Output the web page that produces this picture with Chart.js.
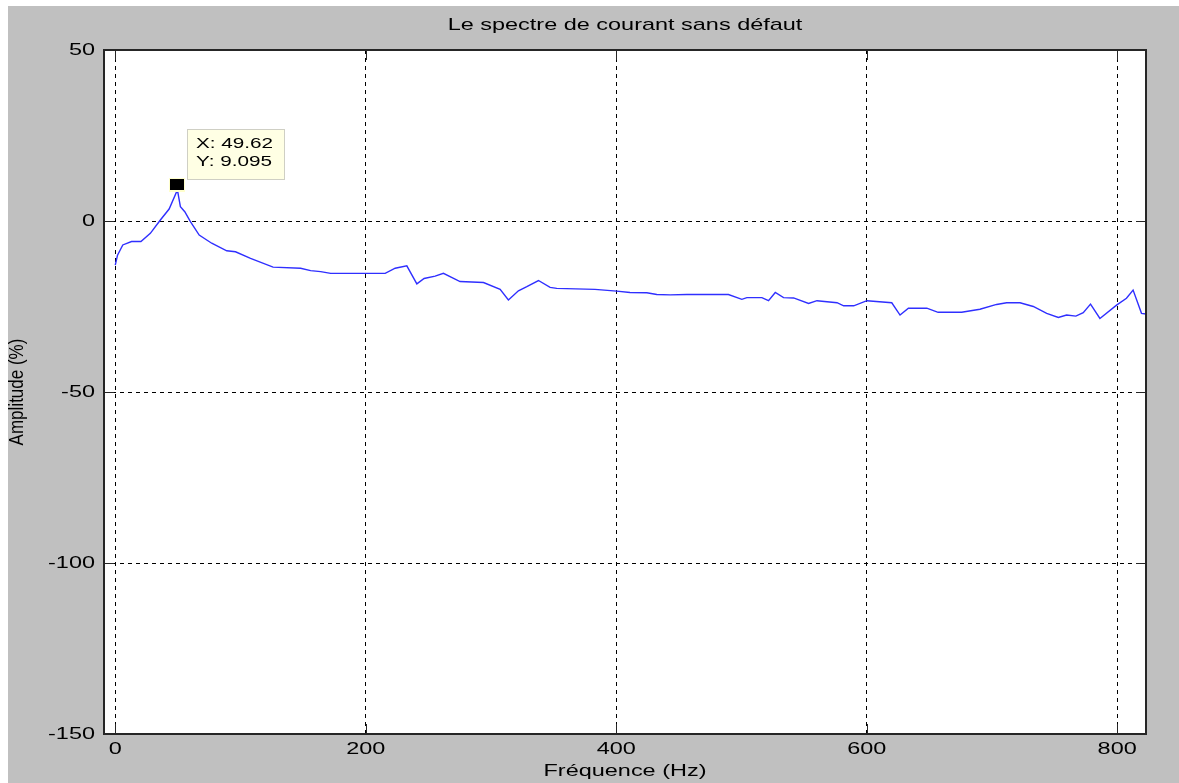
<!DOCTYPE html>
<html>
<head>
<meta charset="utf-8">
<title>Le spectre de courant sans défaut</title>
<script src="https://cdn.jsdelivr.net/npm/chart.js@4.4.1/dist/chart.umd.min.js"></script>
<style>
  html, body { margin: 0; padding: 0; background: #fff; }
  #fig { position: absolute; left: 8px; top: 6px; width: 1171px; height: 777px; background: #c0c0c0; }
  #spectre { display: block; }
</style>
</head>
<body>
<div id="fig"><canvas id="spectre" width="1171" height="777"></canvas></div>
<script>
// spectrum samples (Hz / %)
const freqHz = [
  0, 1.8, 6, 13, 20.5, 28, 36, 43, 49.62, 52, 55.5, 60, 67, 77, 89, 96, 108, 126, 148, 156,
  164, 172, 201, 215.5, 223.5, 232.8, 240.8, 246.6, 255.4, 262, 275.3, 294, 307.3, 313.9, 321.9, 328.6,
  337.9, 347.2, 352.5, 383, 400.4, 411, 424.4, 432.4, 443, 456.4, 489.6, 500.3, 504.3, 516.3,
  521.6, 527, 533.6, 541.6, 553.6, 560.3, 576.3, 581.6, 589.6, 600.2, 620, 626.6, 633.3, 648,
  657, 675.8, 690.4, 703.7, 711.7, 722.4, 733, 743.7, 753, 759.6, 767, 772.9, 778.7, 786.2,
  799.5, 807.4, 812.7, 819.4, 823
];
const ampPct = [
  -12.9, -10, -7, -6, -6, -3.6, 0.3, 3.5, 9.095, 4.2, 2.7, -0.2, -4.1, -6.5, -8.7, -9, -10.9, -13.5, -13.8, -14.5,
  -14.8, -15.3, -15.3, -15.3, -13.8, -13.1, -18.4, -16.8, -16.1, -15.3, -17.7, -18, -20, -23.1, -20.4, -19.2,
  -17.4, -19.4, -19.7, -20, -20.5, -20.9, -21, -21.5, -21.6, -21.5, -21.5, -22.9, -22.4, -22.4,
  -23.3, -20.9, -22.4, -22.5, -24.1, -23.3, -23.9, -24.8, -24.8, -23.3, -23.9, -27.5, -25.5, -25.5,
  -26.7, -26.7, -25.8, -24.4, -23.9, -23.9, -25, -27, -28.2, -27.5, -27.8, -26.8, -24.3, -28.5,
  -24.6, -22.6, -20.2, -27, -27.2
];

const xTicks = [0, 200, 400, 600, 800];
const yTicks = [-150, -100, -50, 0, 50];

const titleText = 'Le spectre de courant sans défaut';
const xLabel = 'Fréquence (Hz)';
const yLabel = 'Amplitude (%)';

// data cursor
const tipX = 49.62;
const tipY = 9.095;

const FONT = "17px 'Liberation Sans', Arial, sans-serif";
const TIP_FONT = "15px 'Liberation Sans', Arial, sans-serif";
const SX = 1.38; // wide glyphs, like the old figure window
const AXIS_COLOR = '#262626';

function wideText(ctx, s, x, y, align, font){
    ctx.save();
    ctx.font = font;
    ctx.textBaseline = 'middle';
    ctx.textAlign = 'left';
    const w = ctx.measureText(s).width * SX;
    const x0 = align === 'center' ? x - w/2 : (align === 'right' ? x - w : x);
    ctx.translate(x0, y);
    ctx.scale(SX, 1);
    ctx.fillStyle = '#000';
    ctx.fillText(s, 0, 0);
    ctx.restore();
}

const matlabAxes = {
    id: 'matlabAxes',
    beforeDraw(chart){
        const {ctx, chartArea: a} = chart;
        ctx.save();
        ctx.fillStyle = '#fff';
        ctx.fillRect(a.left, a.top, a.right - a.left, a.bottom - a.top);
        ctx.restore();
    },
    afterDatasetsDraw(chart){
        const {ctx, chartArea: a, scales: {x, y}} = chart;
        ctx.save();
        // inward tick marks
        ctx.strokeStyle = AXIS_COLOR;
        ctx.lineWidth = 1;
        ctx.beginPath();
        xTicks.forEach(v => {
            const px = Math.round(x.getPixelForValue(v)) + 0.5;
            ctx.moveTo(px, a.bottom); ctx.lineTo(px, a.bottom - 10);
            ctx.moveTo(px, a.top); ctx.lineTo(px, a.top + 10);
        });
        yTicks.forEach(v => {
            const py = Math.round(y.getPixelForValue(v)) + 0.5;
            ctx.moveTo(a.left, py); ctx.lineTo(a.left + 10, py);
            ctx.moveTo(a.right, py); ctx.lineTo(a.right - 10, py);
        });
        ctx.stroke();
        // box
        ctx.lineWidth = 2;
        ctx.strokeRect(a.left, a.top, a.right - a.left, a.bottom - a.top);

        // data cursor marker + label
        const px = x.getPixelForValue(tipX);
        const py = y.getPixelForValue(tipY);
        ctx.fillStyle = '#ffffcc';
        ctx.fillRect(Math.round(px) - 8, Math.round(py) - 12, 16, 14);
        ctx.fillStyle = '#000';
        ctx.fillRect(Math.round(px) - 7, Math.round(py) - 11, 14, 11);

        const bx = Math.round(px) + 10, by = Math.round(py) - 61;
        ctx.fillStyle = '#ffffe4';
        ctx.fillRect(bx, by, 98, 51);
        ctx.strokeStyle = '#cfcfc4';
        ctx.lineWidth = 1;
        ctx.strokeRect(bx + 0.5, by + 0.5, 97, 50);
        ctx.restore();
        wideText(ctx, 'X: ' + tipX, bx + 9, by + 15, 'left', TIP_FONT);
        wideText(ctx, 'Y: ' + tipY, bx + 9, by + 33, 'left', TIP_FONT);
    },
    afterDraw(chart){
        const {ctx, chartArea: a, scales: {x, y}} = chart;
        xTicks.forEach(v => wideText(ctx, String(v), x.getPixelForValue(v), a.bottom + 15, 'center', FONT));
        yTicks.forEach(v => wideText(ctx, String(v), a.left - 9, y.getPixelForValue(v), 'right', FONT));
        const cx = (a.left + a.right) / 2;
        wideText(ctx, titleText, cx, 19, 'center', FONT);
        wideText(ctx, xLabel, cx, 765, 'center', FONT);

        // rotated y label
        ctx.save();
        ctx.translate(10, (a.top + a.bottom) / 2);
        ctx.scale(SX * 0.85, 1);
        ctx.rotate(-Math.PI / 2);
        ctx.font = FONT;
        ctx.textAlign = 'center';
        ctx.textBaseline = 'middle';
        ctx.fillStyle = '#000';
        ctx.fillText(yLabel, 0, 0);
        ctx.restore();
    }
};

const points = freqHz.map((f, i) => ({x: f, y: ampPct[i]}));

new Chart(document.getElementById('spectre'), {
    type: 'line',
    data: {
        datasets: [{
            data: points,
            borderColor: '#2f2fff',
            borderWidth: 1.4,
            pointRadius: 0,
            tension: 0,
            fill: false
        }]
    },
    options: {
        responsive: false,
        animation: false,
        devicePixelRatio: 1,
        layout: { autoPadding: false, padding: { left: 0, top: 44, right: 33, bottom: 0 } },
        plugins: { legend: { display: false }, tooltip: { enabled: false } },
        scales: {
            x: {
                type: 'linear',
                min: -9,
                max: 823,
                afterBuildTicks: s => { s.ticks = xTicks.map(v => ({value: v})); },
                afterFit: s => { s.height = 49; },
                ticks: { display: false },
                grid: { color: '#000', lineWidth: 1, drawTicks: false },
                border: { display: false, dash: [4, 4] }
            },
            y: {
                type: 'linear',
                min: -150,
                max: 50,
                afterBuildTicks: s => { s.ticks = yTicks.map(v => ({value: v})); },
                afterFit: s => { s.width = 96; },
                ticks: { display: false },
                grid: { color: '#000', lineWidth: 1, drawTicks: false },
                border: { display: false, dash: [4, 4] }
            }
        }
    },
    plugins: [matlabAxes]
});
</script>
</body>
</html>
